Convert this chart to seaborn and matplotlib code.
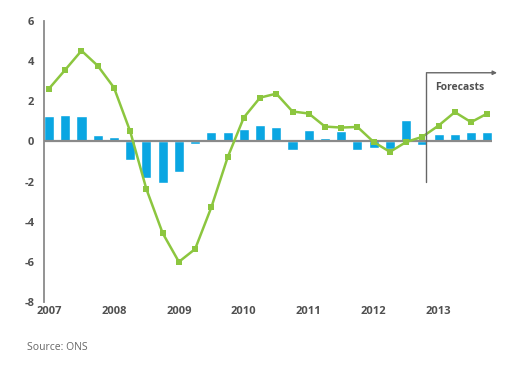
import numpy as np
import pandas as pd
import matplotlib
matplotlib.use("Agg")
import matplotlib.pyplot as plt
import seaborn as sns

# quarterly data, 2007 Q1 - 2013 Q4
quarters = [f"{y} Q{q}" for y in range(2007, 2014) for q in range(1, 5)]
quarterly_growth = [1.25, 1.34, 1.25, 0.30, 0.22, -0.93, -1.80, -2.08,
                    -1.54, -0.15, 0.46, 0.46, 0.63, 0.84, 0.73, -0.43,
                    0.56, 0.18, 0.51, -0.43, -0.31, -0.40, 1.09, -0.18,
                    0.36, 0.36, 0.46, 0.46]
annual_growth = [2.63, 3.57, 4.52, 3.77, 2.68, 0.50, -2.38, -4.57,
                 -6.00, -5.36, -3.28, -0.80, 1.19, 2.18, 2.38, 1.49,
                 1.39, 0.74, 0.69, 0.72, -0.03, -0.52, -0.03, 0.23,
                 0.79, 1.46, 0.96, 1.39]
year_labels = ["2007", "2008", "2009", "2010", "2011", "2012", "2013"]
y_ticks = [6, 4, 2, 0, -2, -4, -6, -8]

BLUE = "#0aa6e2"
GREEN = "#8cc63f"
GREY = "#8a8a8a"
TEXT = "#505050"

df = pd.DataFrame({
    "pos": np.arange(len(quarters)),
    "quarter": quarters,
    "quarterly": quarterly_growth,
    "annual": annual_growth,
})

sns.set_theme(style="white")
plt.rcParams["font.family"] = ["Open Sans", "DejaVu Sans"]

fig = plt.figure(figsize=(5.2, 3.7), dpi=100)
ax = fig.add_axes([0.0846, 0.1838, 0.890, 0.7595])

sns.barplot(data=df, x="pos", y="quarterly", native_scale=True, width=0.62,
            color=BLUE, saturation=1, ax=ax, zorder=2)
ax.hlines(0, -0.31, 27.3, color=GREY, lw=1.6, zorder=3)
sns.lineplot(data=df, x="pos", y="annual", color=GREEN, lw=1.8,
             marker="s", markersize=5, markeredgewidth=0, ax=ax, zorder=4)

ax.set_xlim(-0.31, 28.2)
ax.set_ylim(-8, 6)
ax.set_xticks(np.arange(0, len(quarters), 4))
ax.set_xticklabels(year_labels)
ax.set_yticks(y_ticks)
ax.set_yticklabels([str(t) for t in y_ticks])
ax.tick_params(axis="both", length=0, labelsize=8, labelcolor=TEXT)
ax.tick_params(axis="y", pad=7)
ax.tick_params(axis="x", pad=3)
for lab in ax.get_xticklabels() + ax.get_yticklabels():
    lab.set_fontweight("bold")
ax.set_xlabel("")
ax.set_ylabel("")

for side in ["top", "right", "bottom"]:
    ax.spines[side].set_visible(False)
ax.spines["left"].set_color(GREY)
ax.spines["left"].set_linewidth(1.3)

# forecast bracket
ax.plot([23.25, 23.25], [-2.03, 3.42], color="#666666", lw=1, zorder=5)
ax.annotate("", xy=(27.6, 3.42), xytext=(23.25, 3.42),
            arrowprops=dict(arrowstyle="-|>", color="#666666", lw=1,
                            mutation_scale=6, shrinkA=0, shrinkB=0))
ax.text(23.8, 2.68, "Forecasts", fontsize=7.5, fontweight="bold",
        color=TEXT, va="center", ha="left")

fig.text(27 / 520, 1 - 348 / 370, "Source: ONS", fontsize=7.5,
         color="#666666", va="center", ha="left")

fig.savefig("out.png", dpi=100)
